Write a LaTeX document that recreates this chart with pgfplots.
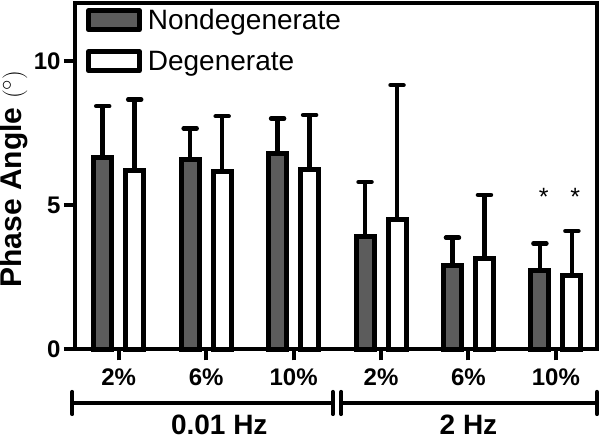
\documentclass[border=0pt]{standalone}
\usepackage{fontspec}
\setmainfont{Liberation Sans}
\usepackage{pgfplots}
\usepackage{pgfplotstable}
\pgfplotsset{compat=1.18}
\definecolor{ndgray}{RGB}{92,92,92}
\pgfplotstableread{
x y e
0 6.67 1.77
1 6.59 1.08
2 6.80 1.21
3 3.91 1.90
4 2.93 0.95
5 2.73 0.95
}\nondeg
\pgfplotstableread{
x y e
0 6.22 2.45
1 6.16 1.93
2 6.25 1.88
3 4.52 4.65
4 3.15 2.21
5 2.56 1.55
}\deg
\begin{document}
\begin{tikzpicture}[x=1pt,y=1pt]
\begin{axis}[
  at={(75pt,86.5pt)}, anchor=south west,
  scale only axis, width=522pt, height=346pt,
  xmin=-0.5, xmax=5.47, ymin=0, ymax=12,
  axis line style={line width=4pt},
  every tick/.style={line width=4pt, black},
  major tick length=11pt,
  tick align=outside,
  xtick={0,...,5}, xticklabels={2\%,6\%,10\%,2\%,6\%,10\%},
  ytick={0,5,10},
  xtick pos=bottom, ytick pos=left,
  ticklabel style={font=\fontsize{24}{24}\selectfont\bfseries},
  xticklabel style={yshift=-5pt},
  /pgf/number format/assume math mode=true,
  ylabel={\fontsize{30}{30}\selectfont\bfseries Phase Angle $(^\circ)$},
  ylabel style={at={(axis description cs:-0.118,0.493)}, anchor=center, inner sep=0pt},
  ybar, bar width=18pt,
  clip=false,
  error bars/y dir=plus, error bars/y explicit,
  error bars/error bar style={line width=4.5pt, black},
  error bars/error mark options={rotate=90, black, mark size=6.5pt, line width=4.5pt, line cap=round},
  legend style={at={(0.0205,0.987)}, anchor=north west, draw=none, fill=none,
    row sep=17pt, inner sep=0pt, nodes={inner sep=0pt}},
  legend cell align=left,
]
\addplot[fill=ndgray, draw=black, line width=5pt, bar shift=-16pt,
  legend image code/.code={\draw[fill=ndgray, draw=black, line width=5pt, line join=round] (0pt,-9.5pt) rectangle (51pt,9.5pt); \path (57pt,0pt);}]
  table[x=x, y=y, y error plus=e] {\nondeg};
\addlegendentry[font=\fontsize{28}{32}\selectfont]{Nondegenerate}
\addplot[fill=white, draw=black, line width=5pt, bar shift=16pt,
  legend image code/.code={\draw[fill=white, draw=black, line width=5pt, line join=round] (0pt,-9.5pt) rectangle (51pt,9.5pt); \path (57pt,0pt);}]
  table[x=x, y=y, y error plus=e] {\deg};
\addlegendentry[font=\fontsize{28}{32}\selectfont]{Degenerate}
\draw[line width=4pt, line cap=round] (axis cs:-0.53,-1.854) -- (axis cs:2.449,-1.854);
\draw[line width=4pt, line cap=round] (axis cs:-0.53,-1.47) -- (axis cs:-0.53,-2.24);
\draw[line width=4pt, line cap=round] (axis cs:2.449,-1.47) -- (axis cs:2.449,-2.24);
\draw[line width=4pt, line cap=round] (axis cs:2.545,-1.854) -- (axis cs:5.47,-1.854);
\draw[line width=4pt, line cap=round] (axis cs:2.545,-1.47) -- (axis cs:2.545,-2.24);
\draw[line width=4pt, line cap=round] (axis cs:5.47,-1.47) -- (axis cs:5.47,-2.24);
\node[font=\fontsize{28}{28}\selectfont\bfseries, inner sep=0pt, anchor=base] at (axis cs:1.15,-2.95) {0.01 Hz};
\node[font=\fontsize{28}{28}\selectfont\bfseries, inner sep=0pt, anchor=base] at (axis cs:4.0,-2.95) {2 Hz};
\node[font=\fontsize{25}{25}\selectfont] at (axis cs:4.86,5.3) {*};
\node[font=\fontsize{25}{25}\selectfont] at (axis cs:5.22,5.3) {*};
\end{axis}
\pgfresetboundingbox
\path (0,0) rectangle (600,436);
\end{tikzpicture}
\end{document}
